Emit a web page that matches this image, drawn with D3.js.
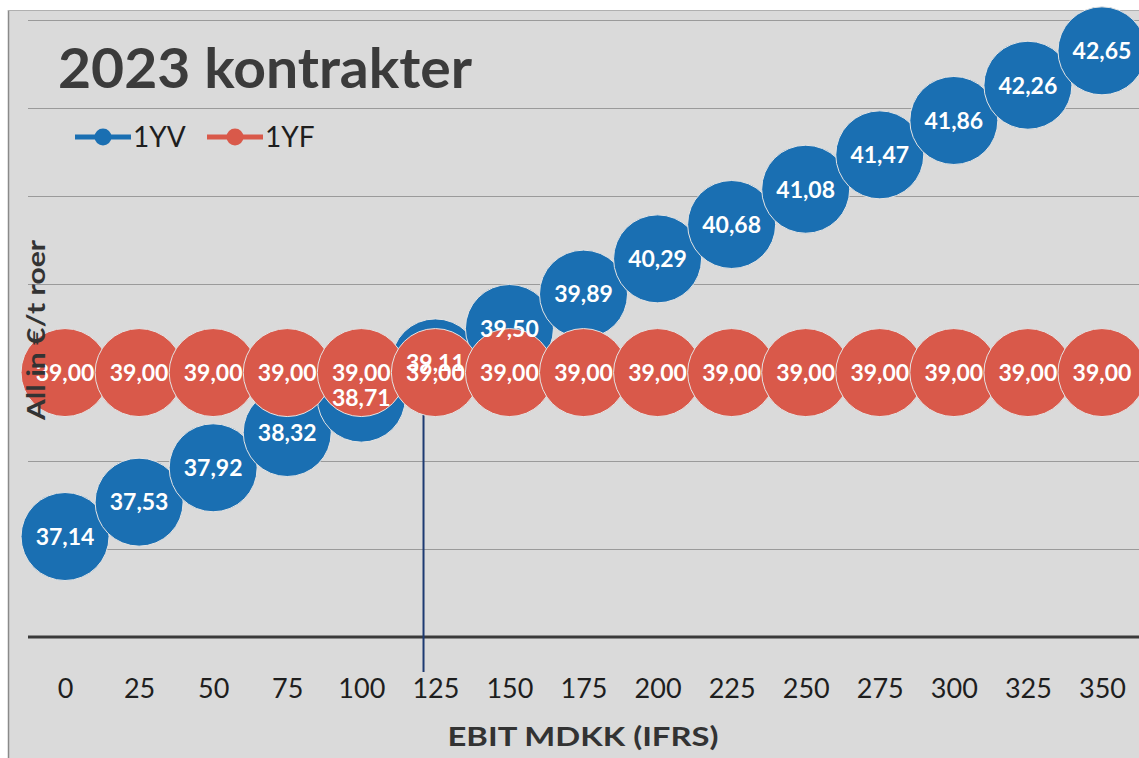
<!DOCTYPE html>
<html>
<head>
<meta charset="utf-8">
<script src="https://cdn.jsdelivr.net/npm/d3@7"></script>
<style>
  html, body { margin: 0; padding: 0; background: #ffffff; }
  svg { display: block; }
</style>
</head>
<body>
<svg id="chart" width="1139" height="758"></svg>
<script>
// ---- data ----
const categories = [0, 25, 50, 75, 100, 125, 150, 175, 200, 225, 250, 275, 300, 325, 350];
const series1YV = [37.14, 37.53, 37.92, 38.32, 38.71, 39.11, 39.50, 39.89, 40.29, 40.68, 41.08, 41.47, 41.86, 42.26, 42.65];
const series1YF = [39.00, 39.00, 39.00, 39.00, 39.00, 39.00, 39.00, 39.00, 39.00, 39.00, 39.00, 39.00, 39.00, 39.00, 39.00];
const seriesNames = ["1YV", "1YF"];
const yTicks = [37, 38, 39, 40, 41, 42, 43];
const markerValue = 121;
const titleText = "2023 kontrakter";
const xTitle = "EBIT MDKK (IFRS)";
const yTitle = "All in €/t roer";

const W = 1139, H = 758;
const blue = "#1a6fb2", red = "#d9594a";
const svg = d3.select("#chart");

// background panel
svg.append("rect").attr("x", 8).attr("y", 10).attr("width", W - 8).attr("height", H - 10)
  .attr("fill", "#dadada");
svg.append("line").attr("x1", 8.5).attr("x2", 8.5).attr("y1", 10).attr("y2", H)
  .attr("stroke", "#8a8a8a").attr("stroke-width", 1.5);
svg.append("line").attr("x1", 8).attr("x2", W).attr("y1", 10.5).attr("y2", 10.5)
  .attr("stroke", "#b0b0b0").attr("stroke-width", 1);

// scales
const x = d3.scalePoint().domain(categories).range([28, W]).padding(0.5);
const xLin = d3.scaleLinear().domain([0, 350]).range([x(0), x(350)]);
const y = d3.scaleLinear().domain([36, 43]).range([637, 20]);

// gridlines
svg.append("g").selectAll("line").data(yTicks).join("line")
  .attr("x1", 28).attr("x2", W)
  .attr("y1", d => Math.round(y(d)) + 0.5).attr("y2", d => Math.round(y(d)) + 0.5)
  .attr("stroke", "#9a9a9a").attr("stroke-width", 1);

// x axis
const xAxis = svg.append("g").attr("transform", `translate(0,${y(36)})`)
  .call(d3.axisBottom(x).tickSize(0).tickPadding(61));
xAxis.select(".domain").attr("d", `M28,0H${W}`).attr("stroke", "#3a3a3a").attr("stroke-width", 3);
xAxis.selectAll("text").attr("font-family", "Lato, 'Open Sans', sans-serif")
  .attr("font-size", 27).attr("fill", "#1e1e1e").attr("dy", 0);

// vertical marker line
svg.append("line")
  .attr("x1", xLin(markerValue)).attr("x2", xLin(markerValue))
  .attr("y1", y(39)).attr("y2", 672)
  .attr("stroke", "#1d3a72").attr("stroke-width", 2);

// series
const seriesData = [
  { name: seriesNames[0], values: series1YV, color: blue },
  { name: seriesNames[1], values: series1YF, color: red }
];
const line = d3.line().x((d, i) => x(categories[i])).y(d => y(d));
const R = 44;
seriesData.forEach(s => {
  const g = svg.append("g");
  g.append("path").attr("d", line(s.values)).attr("fill", "none")
    .attr("stroke", s.color).attr("stroke-width", 4);
  g.selectAll("circle").data(s.values).join("circle")
    .attr("cx", (d, i) => x(categories[i])).attr("cy", d => y(d)).attr("r", R)
    .attr("fill", s.color).attr("stroke", "#e4e4e4").attr("stroke-width", 1);
});

// data labels (on top)
const loc = d3.formatLocale({ decimal: ",", thousands: ".", grouping: [3], currency: ["", "€"] });
const fmt = loc.format(".2f");
seriesData.forEach(s => {
  svg.append("g").selectAll("text").data(s.values).join("text")
    .attr("x", (d, i) => x(categories[i])).attr("y", d => y(d))
    .attr("dy", "0.36em").attr("text-anchor", "middle")
    .attr("font-family", "Lato, 'Open Sans', sans-serif").attr("font-weight", "bold")
    .attr("font-size", 23).attr("fill", "#ffffff")
    .text(d => fmt(d));
});

// title
svg.append("text").attr("x", 58).attr("y", 88)
  .attr("font-family", "Lato, 'Open Sans', sans-serif").attr("font-weight", "bold")
  .attr("font-size", 56).attr("fill", "#3b3b3b")
  .attr("textLength", 414).attr("lengthAdjust", "spacingAndGlyphs")
  .text(titleText);

// legend
const legend = svg.append("g");
const legendItems = [
  { name: seriesNames[0], color: blue, x0: 75 },
  { name: seriesNames[1], color: red, x0: 207 }
];
legendItems.forEach(it => {
  legend.append("line").attr("x1", it.x0).attr("x2", it.x0 + 56)
    .attr("y1", 137).attr("y2", 137).attr("stroke", it.color).attr("stroke-width", 5);
  legend.append("circle").attr("cx", it.x0 + 28).attr("cy", 137).attr("r", 8.5).attr("fill", it.color);
  legend.append("text").attr("x", it.x0 + 58).attr("y", 147)
    .attr("font-family", "Lato, 'Open Sans', sans-serif").attr("font-size", 28)
    .attr("fill", "#1e1e1e").text(it.name);
});

// axis titles
svg.append("text").attr("x", 583).attr("y", 746).attr("text-anchor", "middle")
  .attr("font-family", "Lato, 'Open Sans', sans-serif").attr("font-weight", "bold")
  .attr("font-size", 26).attr("fill", "#333333")
  .attr("textLength", 271).attr("lengthAdjust", "spacingAndGlyphs")
  .text(xTitle);
svg.append("text").attr("transform", "translate(45,330) rotate(-90)").attr("text-anchor", "middle")
  .attr("font-family", "Lato, 'Open Sans', sans-serif").attr("font-weight", "bold")
  .attr("font-size", 24).attr("fill", "#333333")
  .attr("textLength", 180).attr("lengthAdjust", "spacingAndGlyphs")
  .text(yTitle);
</script>
</body>
</html>
